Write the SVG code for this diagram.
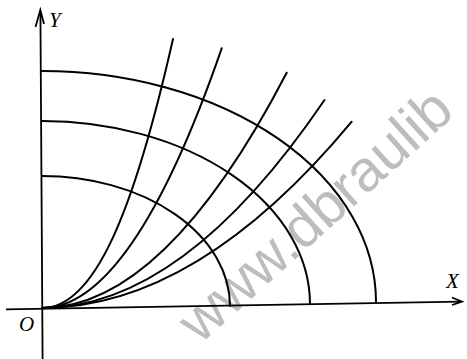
<svg xmlns="http://www.w3.org/2000/svg" width="467" height="359" viewBox="0 0 467 359">
<style>
.ln{fill:none;stroke:#000;stroke-width:2;stroke-linecap:round}
.ax{fill:none;stroke:#000;stroke-width:1.8}
.lbl{font-family:"Liberation Serif","Times New Roman",serif;font-style:italic;font-size:21px;fill:#000}
.wm{font-family:"Liberation Sans",Arial,sans-serif;font-size:58px;fill:#bdbdbd}
</style>
<rect width="467" height="359" fill="#fff"/>
<g id="watermark">
<text class="wm" transform="translate(200,345) rotate(-42)">www.dbraulib</text>
</g>
<g id="axes">
<path class="ax" d="M6 309.3 L461 301.6"/>
<path class="ax" d="M452 297.5 L462 301.6 L452 305"/>
<path class="ax" d="M42.6 359 L40.4 11"/>
<path class="ax" d="M35.5 27 L40.3 10 L44 24"/>
</g>
<g id="arcs">
<path class="ln" d="M42 176 A188 130 0 0 1 230 306"/>
<path class="ln" d="M42 121 A268 183 0 0 1 310 304"/>
<path class="ln" d="M42 71 A334 231 0 0 1 376 302"/>
</g>
<g id="curves">
<path class="ln" d="M42 308 C94.4 308 133.7 212.5 173 39"/>
<path class="ln" d="M42 308 C101.9 308 161.8 221.4 221.7 48.3"/>
<path class="ln" d="M42 308 C123.6 308 205.1 229.6 286.7 72.7"/>
<path class="ln" d="M42 308 C136.2 308 230.3 238.7 324.5 100"/>
<path class="ln" d="M42 308 C145.2 308 248.5 245.9 351.7 121.7"/>
</g>
<g id="labels">
<text class="lbl" x="49" y="27">Y</text>
<text class="lbl" x="446" y="288">X</text>
<text class="lbl" x="19" y="331">O</text>
</g>
</svg>
